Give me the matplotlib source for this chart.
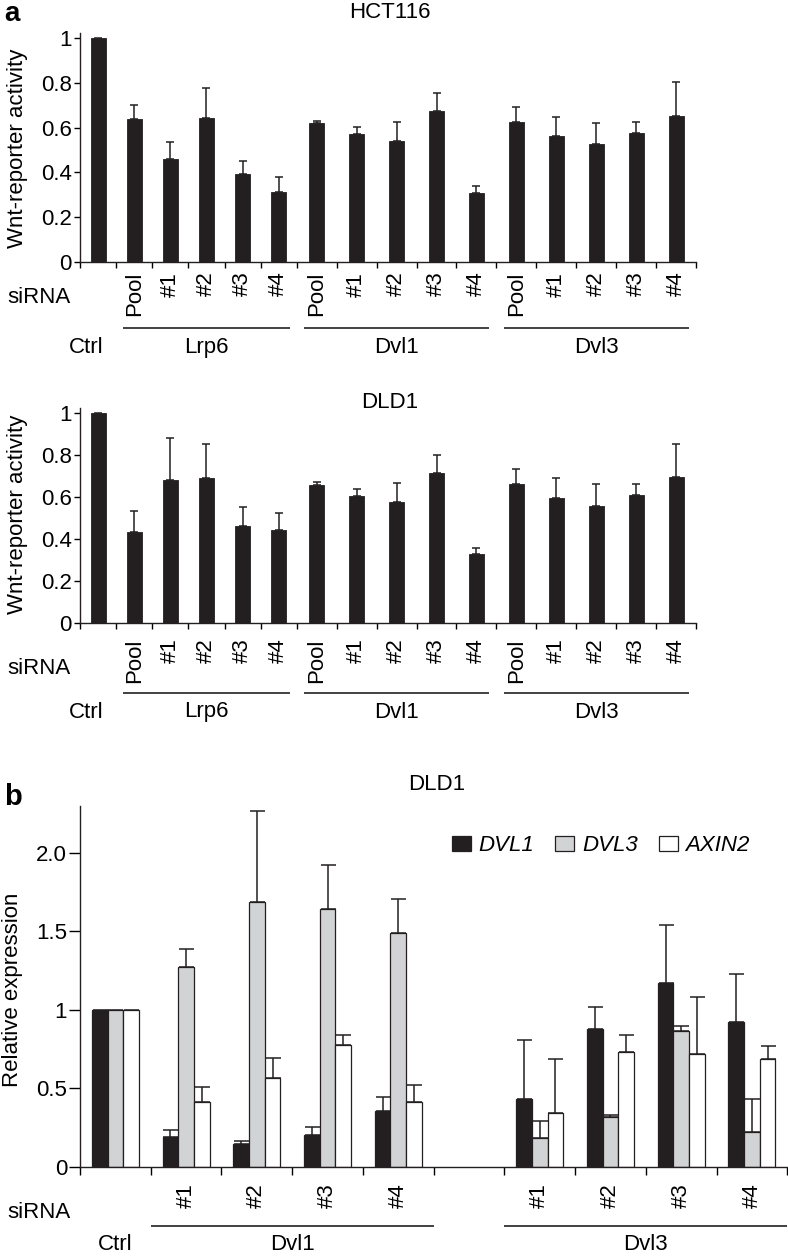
import matplotlib
matplotlib.use("Agg")
import matplotlib.pyplot as plt
import numpy as np
from matplotlib import transforms

plt.rcParams['font.family'] = ['Liberation Sans', 'DejaVu Sans']
plt.rcParams['font.size'] = 16

W, H = 788, 1258
nan = np.nan

# ---- panel a data ----
labels_a = ['', 'Pool', '#1', '#2', '#3', '#4', 'Pool', '#1', '#2', '#3', '#4',
            'Pool', '#1', '#2', '#3', '#4']
groups_a = [('Lrp6', 1, 6), ('Dvl1', 6, 11), ('Dvl3', 11, 16)]

hct116_mean = [1.0, 0.637, 0.461, 0.642, 0.393, 0.312, 0.619, 0.573, 0.542, 0.675, 0.309,
               0.625, 0.564, 0.527, 0.575, 0.654]
hct116_err = [nan, 0.066, 0.073, 0.134, 0.059, 0.067, 0.012, 0.028, 0.085, 0.079, 0.031,
              0.066, 0.085, 0.095, 0.050, 0.152]

dld1_mean = [1.0, 0.433, 0.683, 0.694, 0.465, 0.446, 0.657, 0.608, 0.576, 0.714, 0.329,
             0.665, 0.598, 0.559, 0.611, 0.695]
dld1_err = [nan, 0.102, 0.201, 0.160, 0.089, 0.081, 0.014, 0.033, 0.091, 0.088, 0.031,
            0.068, 0.092, 0.104, 0.054, 0.159]

# ---- panel b data ----
labels_b = ['', '#1', '#2', '#3', '#4', '', '#1', '#2', '#3', '#4']
groups_b = [('Dvl1', 1, 5), ('Dvl3', 6, 10)]
genes = ['DVL1', 'DVL3', 'AXIN2']
dvl1_expr = [1.0, 0.191, 0.145, 0.202, 0.355, nan, 0.429, 0.875, 1.172, 0.924]
dvl1_err = [nan, 0.043, 0.016, 0.053, 0.087, nan, 0.378, 0.144, 0.367, 0.301]
dvl3_expr = [1.0, 1.27, 1.689, 1.642, 1.487, nan, 0.181, 0.318, 0.866, 0.223]
dvl3_err = [nan, 0.116, 0.576, 0.282, 0.218, nan, 0.110, 0.011, 0.030, 0.206]
axin2_expr = [1.0, 0.414, 0.563, 0.775, 0.413, nan, 0.340, 0.733, 0.718, 0.688]
axin2_err = [nan, 0.096, 0.127, 0.065, 0.110, nan, 0.346, 0.104, 0.365, 0.081]

BLACK = '#231f20'
GREY = '#d1d3d4'
PT = 0.72  # points per pixel at dpi 100


def fx(x):
    return x / W


def fy(y):
    return 1 - y / H


def add_axes_px(left, top, right, bottom):
    return fig.add_axes([fx(left), fy(bottom), (right - left) / W, (bottom - top) / H])


def style_axes(ax, edges, ytick_len, xtick_len):
    for s in ['top', 'right']:
        ax.spines[s].set_visible(False)
    for s in ['left', 'bottom']:
        ax.spines[s].set_linewidth(1.0)
        ax.spines[s].set_color(BLACK)
    ax.set_xlim(edges[0], edges[-1])
    ax.set_xticks(edges)
    ax.set_xticklabels([])
    ax.tick_params(axis='x', which='major', direction='out', length=xtick_len * PT, width=1.0)
    ax.tick_params(axis='y', direction='out', length=ytick_len * PT, width=1.0, pad=2 * PT,
                   labelsize=16)


def bottom_labels(ax, centers, labels, groups, edges, pad, sirna_y, line_y, group_y,
                  ctrl_x, inset):
    ax.set_xticks(centers, minor=True)
    ax.set_xticklabels(labels, minor=True, rotation=90, fontsize=16)
    ax.tick_params(axis='x', which='minor', length=0, pad=pad * PT)
    fig.text(fx(7), fy(sirna_y), 'siRNA', ha='left', va='center', fontsize=16)
    tr = transforms.blended_transform_factory(ax.transData, fig.transFigure)
    ax.text(ctrl_x, fy(group_y), 'Ctrl', ha='center', va='center', transform=tr, fontsize=16)
    for name, i0, i1 in groups:
        x0, x1 = edges[i0] + inset, edges[i1] - inset
        ax.plot([x0, x1], [fy(line_y)] * 2, color='#333333', lw=1.3, transform=tr,
                clip_on=False, solid_capstyle='butt')
        ax.text((x0 + x1) / 2, fy(group_y), name, ha='center', va='center', transform=tr,
                fontsize=16)


fig = plt.figure(figsize=(W / 100, H / 100), dpi=100)

# ---- panel a ----
slot_w = np.array([0.905] * 6 + [1.0] * 10)
edges_a = np.concatenate([[0], np.cumsum(slot_w)])
centers_a = edges_a[:-1] + slot_w / 2

panels_a = [
    (hct116_mean, hct116_err, 'HCT116', 33, 261.7, 12.5, 148, 10, 298, 328.3, 347.5),
    (dld1_mean, dld1_err, 'DLD1', 408.3, 623.3, 403, 514, 15, 668, 692.7, 712),
]
for mean, err, title, top, bottom, title_y, ylab_y, pad, sir_y, line_y, grp_y in panels_a:
    ax = add_axes_px(80, top, 696, bottom)
    ax.bar(centers_a, mean, width=0.375, color=BLACK, edgecolor=BLACK, linewidth=0.6,
           zorder=2)
    ax.errorbar(centers_a, mean, yerr=[np.zeros(len(err)), err], fmt='none', ecolor=BLACK,
                elinewidth=1.1, capsize=3.2, capthick=1.1, zorder=3)
    ax.set_ylim(0, 1.024)
    ax.set_yticks([0, 0.2, 0.4, 0.6, 0.8, 1.0])
    ax.set_yticklabels(['0', '0.2', '0.4', '0.6', '0.8', '1'])
    style_axes(ax, edges_a, 6, 6)
    bottom_labels(ax, centers_a, labels_a, groups_a, edges_a, pad, sir_y, line_y, grp_y,
                  centers_a[0] - 0.3, 0.18)
    fig.text(fx(390), fy(title_y), title, ha='center', va='center', fontsize=16)
    fig.text(fx(17.5), fy(ylab_y), 'Wnt-reporter activity', rotation=90, ha='center',
             va='center', fontsize=16)

fig.text(fx(4), fy(1), 'a', fontsize=20, fontweight='bold', ha='left', va='top')

# ---- panel b ----
edges_b = np.arange(len(labels_b) + 1, dtype=float)
centers_b = edges_b[:-1] + 0.5
bw = 0.222
axb = add_axes_px(80, 805.7, 787.3, 1166.7)
series = [(dvl1_expr, dvl1_err, BLACK), (dvl3_expr, dvl3_err, GREY),
          (axin2_expr, axin2_err, 'white')]
handles = []
for k, (vals, err, col) in enumerate(series):
    xs = centers_b + (k - 1) * bw
    h = axb.bar(xs, vals, width=bw, color=col, edgecolor=BLACK, linewidth=0.9, zorder=2)
    handles.append(h)
    axb.errorbar(xs, vals, yerr=[np.zeros(len(err)), err], fmt='none', ecolor=BLACK,
                 elinewidth=1.1, capsize=5.4, capthick=1.1, zorder=3)
axb.set_ylim(0, 2.30)
axb.set_yticks([0, 0.5, 1.0, 1.5, 2.0])
axb.set_yticklabels(['0', '0.5', '1', '1.5', '2.0'])
style_axes(axb, edges_b, 11, 8)
bottom_labels(axb, centers_b, labels_b, groups_b, edges_b, 16.3, 1212, 1225.7, 1244,
              centers_b[0], 0.0)
axb.legend(handles, genes, ncol=3, frameon=False, loc='center left',
           bbox_to_anchor=(0.5255, 0.889), borderaxespad=0, borderpad=0,
           handlelength=0.85, handleheight=0.7, handletextpad=0.35, columnspacing=0.95,
           prop={'style': 'italic', 'size': 16})
fig.text(fx(437), fy(784), 'DLD1', ha='center', va='center', fontsize=16)
fig.text(fx(12.5), fy(990), 'Relative expression', rotation=90, ha='center', va='center',
         fontsize=16)
fig.text(fx(4), fy(805), 'b', fontsize=21, fontweight='bold', ha='left', va='baseline')

fig.savefig('out.png', dpi=100)
